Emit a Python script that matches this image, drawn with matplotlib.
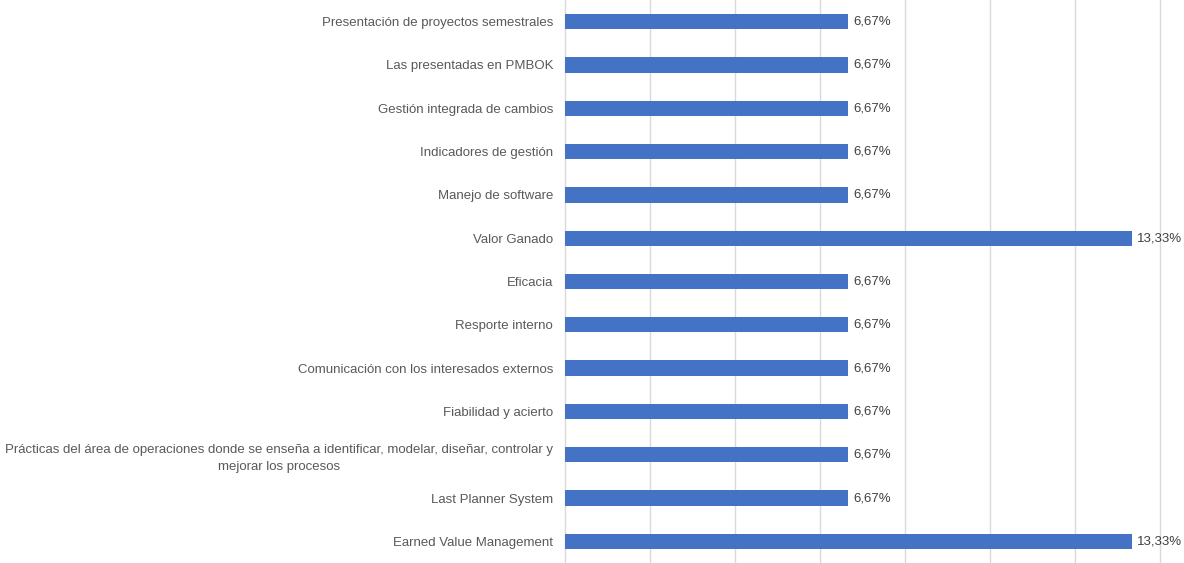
import matplotlib.pyplot as plt
import numpy as np

plt.rcParams['font.family'] = ['Liberation Sans', 'DejaVu Sans']

# Data (top to bottom as in the chart)
categorias = [
    'Presentación de proyectos semestrales',
    'Las presentadas en PMBOK',
    'Gestión integrada de cambios',
    'Indicadores de gestión',
    'Manejo de software',
    'Valor Ganado',
    'Eficacia',
    'Resporte interno',
    'Comunicación con los interesados externos',
    'Fiabilidad y acierto',
    'Prácticas del área de operaciones donde se enseña a identificar, modelar, diseñar, controlar y\nmejorar los procesos',
    'Last Planner System',
    'Earned Value Management',
]
porcentajes = [6.67, 6.67, 6.67, 6.67, 6.67, 13.33, 6.67, 6.67, 6.67, 6.67, 6.67, 6.67, 13.33]

fig = plt.figure(figsize=(11.84, 5.63), dpi=100)
ax = fig.add_axes([565 / 1184, 0.0, (1160 - 565) / 1184, 1.0])

y = np.arange(len(categorias))
ax.barh(y, porcentajes, height=0.355, color='#4472C4', zorder=3)

for yi, v in zip(y, porcentajes):
    ax.text(v + 0.12, yi, f'{v:.2f}%'.replace('.', ','), va='center', ha='left',
            fontsize=9.5, color='#404040', clip_on=False)

ax.set_xlim(0, 14)
ax.set_ylim(len(categorias) - 0.5, -0.5)
ax.set_xticks(np.arange(0, 15, 2))
ax.set_xticklabels([])
ax.tick_params(axis='x', length=0)
ax.grid(axis='x', color='#d9d9d9', linewidth=1, zorder=0)
for gl in ax.get_xgridlines():
    gl.set_clip_on(False)

ax.set_yticks(y)
ax.set_yticklabels(categorias, fontsize=9.5, color='#595959')
for lbl in ax.get_yticklabels():
    lbl.set_multialignment('center')
    lbl.set_linespacing(1.55)
ax.tick_params(axis='y', length=0, pad=8.5)

for s in ax.spines.values():
    s.set_visible(False)

fig.savefig('out.png', dpi=100)
